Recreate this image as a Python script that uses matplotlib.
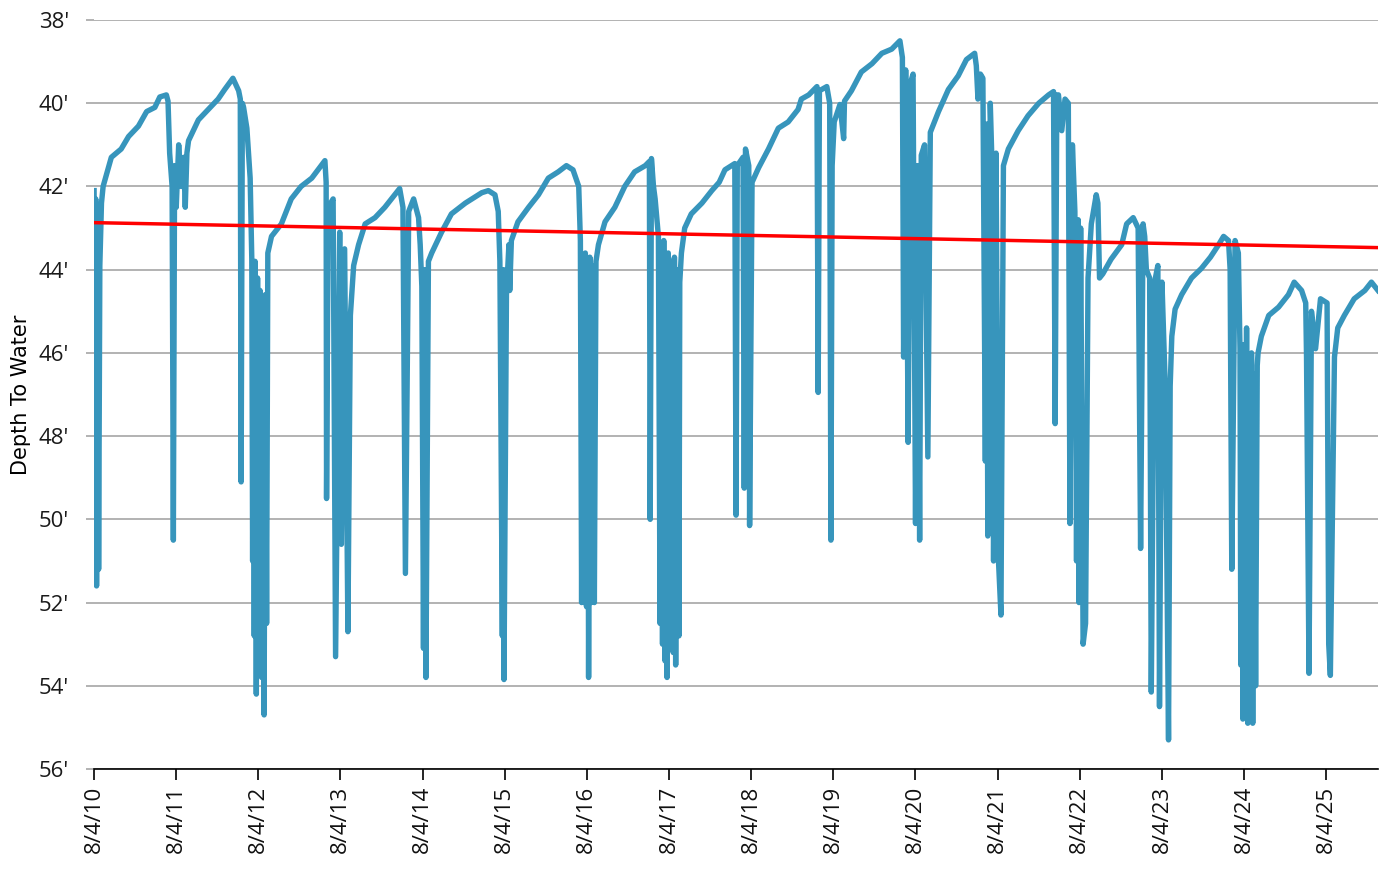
import matplotlib
matplotlib.use("Agg")
import matplotlib.pyplot as plt
import numpy as np

# decimal year, depth to water (ft)
years = [
    2010.590, 2010.600, 2010.610, 2010.620, 2010.635, 2010.645, 2010.660, 2010.680, 2010.700,
    2010.800, 2010.920, 2011.010, 2011.130, 2011.230, 2011.330, 2011.390, 2011.470, 2011.490,
    2011.510, 2011.540, 2011.555, 2011.570, 2011.590, 2011.620, 2011.650, 2011.680, 2011.700,
    2011.720, 2011.740, 2011.860, 2011.980, 2012.100, 2012.180, 2012.280, 2012.350, 2012.370,
    2012.380, 2012.395, 2012.410, 2012.450, 2012.490, 2012.510, 2012.520, 2012.530, 2012.540,
    2012.550, 2012.565, 2012.580, 2012.595, 2012.610, 2012.630, 2012.645, 2012.660, 2012.675,
    2012.690, 2012.705, 2012.750, 2012.870, 2012.990, 2013.110, 2013.240, 2013.400, 2013.415,
    2013.420, 2013.440, 2013.500, 2013.530, 2013.580, 2013.600, 2013.640, 2013.680, 2013.710,
    2013.750, 2013.810, 2013.890, 2014.010, 2014.130, 2014.250, 2014.310, 2014.350, 2014.380,
    2014.420, 2014.480, 2014.540, 2014.560, 2014.580, 2014.600, 2014.615, 2014.630, 2014.660,
    2014.700, 2014.820, 2014.940, 2015.110, 2015.310, 2015.390, 2015.470, 2015.510, 2015.530,
    2015.560, 2015.575, 2015.580, 2015.610, 2015.640, 2015.650, 2015.670, 2015.750, 2015.880,
    2016.000, 2016.120, 2016.240, 2016.340, 2016.420, 2016.490, 2016.510, 2016.525, 2016.540,
    2016.555, 2016.570, 2016.585, 2016.600, 2016.610, 2016.625, 2016.640, 2016.660, 2016.680,
    2016.700, 2016.730, 2016.810, 2016.930, 2017.050, 2017.170, 2017.300, 2017.350, 2017.360,
    2017.375, 2017.400, 2017.420, 2017.460, 2017.480, 2017.495, 2017.510, 2017.525, 2017.540,
    2017.555, 2017.565, 2017.580, 2017.600, 2017.620, 2017.640, 2017.655, 2017.670, 2017.690,
    2017.710, 2017.720, 2017.740, 2017.780, 2017.860, 2017.990, 2018.110, 2018.200, 2018.270,
    2018.390, 2018.405, 2018.420, 2018.490, 2018.505, 2018.520, 2018.560, 2018.570, 2018.600,
    2018.680, 2018.800, 2018.920, 2019.040, 2019.160, 2019.200, 2019.290, 2019.390, 2019.405,
    2019.420, 2019.510, 2019.545, 2019.560, 2019.575, 2019.600, 2019.670, 2019.715, 2019.725,
    2019.810, 2019.930, 2020.060, 2020.180, 2020.300, 2020.400, 2020.430, 2020.445, 2020.470,
    2020.500, 2020.530, 2020.560, 2020.590, 2020.615, 2020.640, 2020.660, 2020.700, 2020.740,
    2020.770, 2020.870, 2020.990, 2021.110, 2021.210, 2021.310, 2021.330, 2021.350, 2021.380,
    2021.410, 2021.440, 2021.455, 2021.470, 2021.500, 2021.520, 2021.540, 2021.570, 2021.600,
    2021.630, 2021.660, 2021.720, 2021.840, 2021.960, 2022.090, 2022.210, 2022.270, 2022.290,
    2022.310, 2022.330, 2022.370, 2022.410, 2022.450, 2022.470, 2022.500, 2022.530, 2022.550,
    2022.570, 2022.580, 2022.600, 2022.630, 2022.660, 2022.690, 2022.730, 2022.790, 2022.810,
    2022.830, 2022.870, 2022.970, 2023.100, 2023.160, 2023.240, 2023.300, 2023.330, 2023.360,
    2023.380, 2023.400, 2023.440, 2023.460, 2023.500, 2023.540, 2023.560, 2023.590, 2023.630,
    2023.670, 2023.690, 2023.710, 2023.750, 2023.830, 2023.950, 2024.070, 2024.180, 2024.280,
    2024.340, 2024.400, 2024.420, 2024.440, 2024.480, 2024.520, 2024.540, 2024.550, 2024.560,
    2024.575, 2024.590, 2024.605, 2024.620, 2024.635, 2024.650, 2024.665, 2024.680, 2024.695,
    2024.710, 2024.730, 2024.750, 2024.760, 2024.800, 2024.890, 2025.010, 2025.130, 2025.200,
    2025.290, 2025.340, 2025.350, 2025.380, 2025.410, 2025.460, 2025.520, 2025.600, 2025.620,
    2025.640, 2025.690, 2025.730, 2025.810, 2025.930, 2026.060, 2026.140, 2026.220,
]
depth = [
    42.1, 51.0, 42.3, 51.6, 43.5, 51.2, 43.9, 42.4, 42.0,
    41.3, 41.1, 40.8, 40.55, 40.2, 40.1, 39.85, 39.8, 39.95,
    41.2, 42.0, 50.5, 41.5, 42.5, 41.0, 42.0, 41.3, 42.5,
    41.2, 40.9, 40.4, 40.15, 39.9, 39.67, 39.4, 39.7, 39.9,
    49.1, 40.0, 40.1, 40.6, 41.8, 43.75, 51.0, 44.5, 52.8,
    43.8, 54.2, 44.2, 53.2, 44.5, 53.8, 45.0, 54.7, 44.6,
    52.5, 43.6, 43.2, 42.9, 42.3, 42.0, 41.8, 41.38, 41.9,
    49.5, 42.5, 42.3, 53.3, 43.1, 50.6, 43.5, 52.7, 45.1,
    43.9, 43.4, 42.9, 42.75, 42.5, 42.2, 42.05, 42.5, 51.3,
    42.6, 42.3, 42.75, 43.4, 44.4, 53.1, 44.0, 53.8, 43.8,
    43.6, 43.1, 42.66, 42.4, 42.15, 42.1, 42.2, 42.6, 43.8,
    52.8, 44.0, 53.85, 44.6, 43.4, 44.5, 43.3, 42.85, 42.5,
    42.2, 41.8, 41.65, 41.5, 41.6, 42.0, 43.3, 52.0, 43.8,
    52.0, 43.6, 52.1, 44.0, 53.8, 43.7, 52.0, 43.9, 52.0,
    43.8, 43.4, 42.85, 42.5, 42.0, 41.65, 41.5, 41.4, 50.0,
    41.33, 42.0, 42.3, 43.2, 52.5, 43.5, 53.0, 43.3, 53.4,
    44.0, 53.8, 43.6, 53.0, 43.8, 53.2, 43.7, 53.5, 44.0,
    52.8, 44.3, 43.6, 43.0, 42.66, 42.4, 42.1, 41.9, 41.6,
    41.45, 49.9, 41.5, 41.3, 49.25, 41.1, 41.5, 50.15, 41.9,
    41.55, 41.1, 40.6, 40.45, 40.15, 39.9, 39.8, 39.6, 46.95,
    39.7, 39.6, 40.0, 50.5, 41.5, 40.45, 40.03, 40.85, 39.95,
    39.7, 39.25, 39.05, 38.8, 38.7, 38.5, 38.9, 46.1, 39.2,
    48.15, 39.5, 39.3, 50.1, 41.5, 50.5, 41.25, 41.0, 48.5,
    40.7, 40.2, 39.67, 39.34, 38.95, 38.8, 39.1, 39.9, 39.3,
    39.4, 48.6, 40.5, 50.4, 40.0, 41.4, 51.0, 41.2, 51.0,
    52.3, 41.5, 41.1, 40.66, 40.3, 40.0, 39.8, 39.72, 47.7,
    39.8, 39.8, 40.66, 39.9, 40.0, 50.1, 41.0, 42.6, 51.0,
    42.8, 52.0, 43.0, 53.0, 52.5, 44.2, 42.9, 42.2, 42.4,
    44.2, 44.1, 43.75, 43.4, 42.9, 42.75, 43.0, 50.7, 42.9,
    43.2, 44.0, 44.2, 54.15, 44.3, 43.9, 54.5, 44.3, 46.8,
    55.3, 46.8, 45.6, 44.95, 44.6, 44.2, 43.97, 43.7, 43.4,
    43.2, 43.3, 44.0, 51.2, 43.3, 43.6, 45.9, 53.5, 46.0,
    54.8, 45.8, 54.5, 45.4, 54.9, 46.2, 54.7, 46.0, 54.9,
    46.5, 54.0, 46.3, 46.0, 45.6, 45.1, 44.9, 44.6, 44.3,
    44.5, 44.8, 46.1, 53.7, 45.0, 45.9, 44.7, 44.8, 53.0,
    53.75, 46.1, 45.4, 45.1, 44.7, 44.5, 44.3, 44.5,
]

trend_years = [2010.589, 2026.22]
trend_depth = [42.87, 43.47]

tick_years = [2010.589 + k for k in range(16)]
tick_labels = ["8/4/%d" % (10 + k) for k in range(16)]
depth_ticks = list(range(38, 57, 2))

fig = plt.figure(figsize=(13.94, 8.84), dpi=100)
ax = fig.add_axes([94 / 1394, 1 - 769 / 884, (1378 - 94) / 1394, (769 - 20) / 884])

ax.plot(years, depth, color="#3795bc", lw=3.9, solid_joinstyle="round", zorder=3)
ax.plot(trend_years, trend_depth, color="#ff0000", lw=2.5, zorder=4)

ax.set_xlim(2010.589, 2026.22)
ax.set_ylim(56, 38)
ax.set_yticks(depth_ticks)
ax.set_yticklabels(["%d'" % d for d in depth_ticks], fontsize=16, family="Open Sans", color="#1a1a1a")
ax.set_xticks(tick_years)
ax.set_xticklabels(tick_labels, rotation=90, fontsize=16, family="Open Sans", color="#111111")

ax.grid(axis="y", color="#a6a6a6", lw=1.2, zorder=0)
for s in ["top", "right", "left"]:
    ax.spines[s].set_visible(False)
ax.spines["bottom"].set_color("black")
ax.spines["bottom"].set_linewidth(1.2)
ax.tick_params(axis="y", length=6, color="#a6a6a6", width=1.2, pad=12)
ax.tick_params(axis="x", length=8, color="black", width=1.2, pad=4)

ax.set_ylabel("Depth To Water", fontsize=15, family=["Liberation Sans Narrow", "DejaVu Sans"])
ax.yaxis.set_label_coords(-0.049, 0.5)

fig.savefig("out.png", dpi=100)
